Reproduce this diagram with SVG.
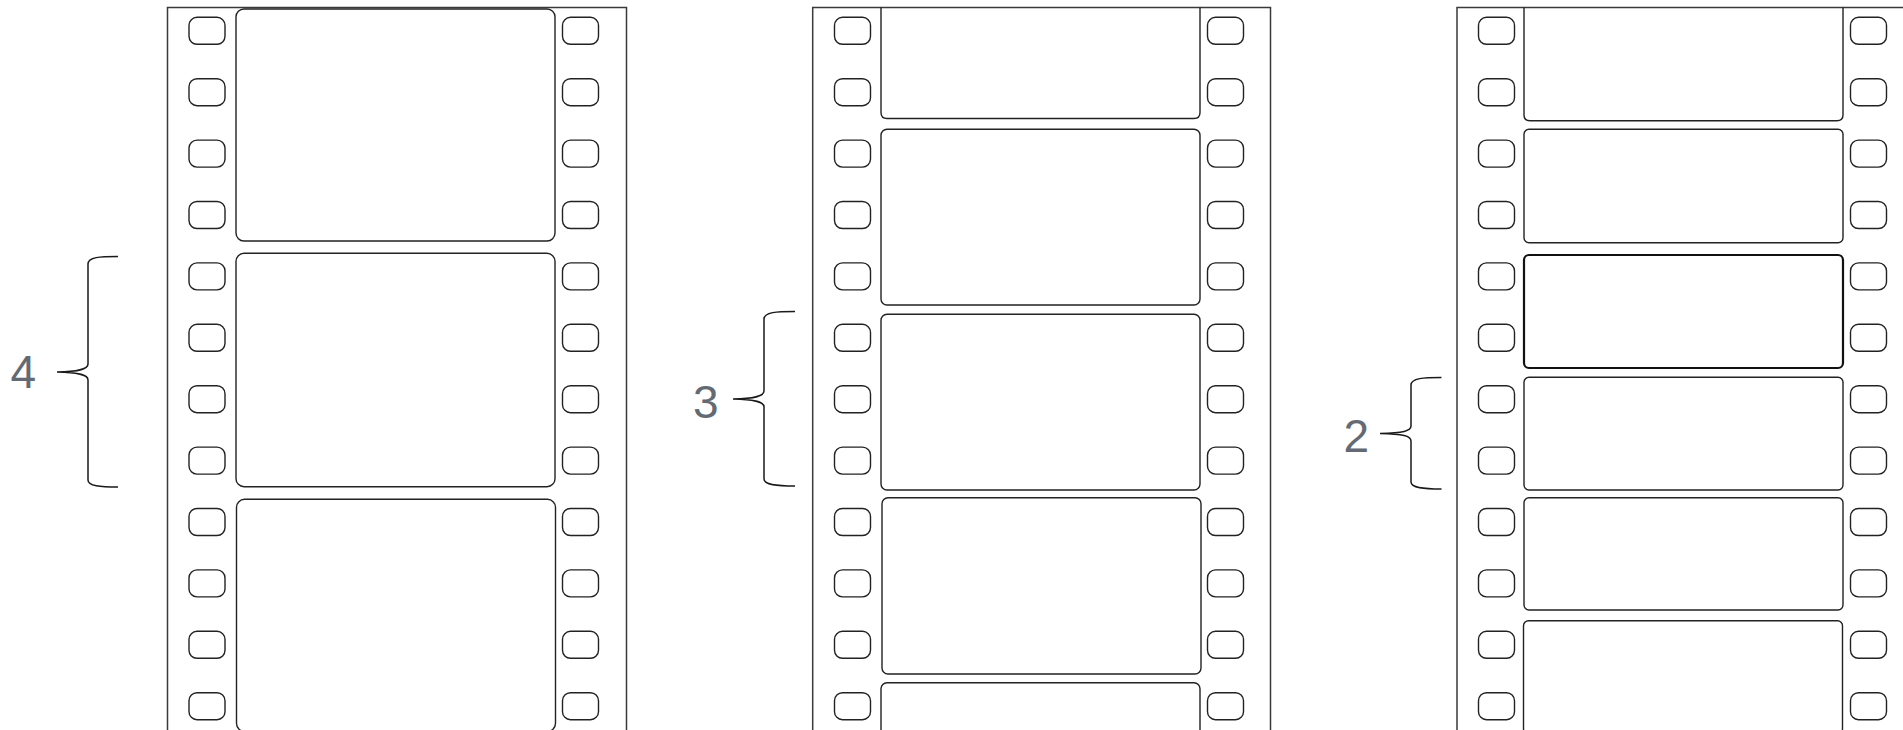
<svg xmlns="http://www.w3.org/2000/svg" width="1903" height="730" viewBox="0 0 1903 730">
<style>
.edge{fill:none;stroke:#3a3a3a;stroke-width:1.5}
.frame{fill:none;stroke:#222;stroke-width:1.4}
.bold{stroke-width:2.2;stroke:#111}
.hole{fill:none;stroke:#222;stroke-width:1.4}
.brace{fill:none;stroke:#1a1a1a;stroke-width:1.5}
.lbl{font-family:"Liberation Sans",Arial,sans-serif;font-size:46px;fill:#636a73}
</style>
<defs>
<rect id="hole" class="hole" width="36" height="27" rx="8"/>
<g id="holecol">
<use href="#hole" y="17.3"/><use href="#hole" y="78.7"/><use href="#hole" y="140.1"/><use href="#hole" y="201.5"/>
<use href="#hole" y="262.9"/><use href="#hole" y="324.3"/><use href="#hole" y="385.7"/><use href="#hole" y="447.1"/>
<use href="#hole" y="508.5"/><use href="#hole" y="569.9"/><use href="#hole" y="631.3"/><use href="#hole" y="692.7"/>
</g>
</defs>
<rect width="1903" height="730" fill="#fff"/>

<g id="strip-4">
<path class="edge" d="M167.5,730 V7.5 H626.5 V730"/>
<use href="#holecol" x="189"/>
<use href="#holecol" x="562.5"/>
<rect class="frame" x="236" y="9" width="319" height="232" rx="8"/>
<rect class="frame" x="236" y="253.3" width="319" height="233.4" rx="8"/>
<rect class="frame" x="236.5" y="499.3" width="319" height="232" rx="8"/>
</g>

<g id="strip-3">
<path class="edge" d="M812.7,730 V7.5 H1270.5 V730"/>
<use href="#holecol" x="834.5"/>
<use href="#holecol" x="1207.5"/>
<path class="frame" d="M881,7.5 V112.5 Q881,118.5 887,118.5 H1194 Q1200,118.5 1200,112.5 V7.5"/>
<rect class="frame" x="881" y="129.3" width="319" height="175.7" rx="6"/>
<rect class="frame" x="881" y="314.3" width="319" height="175.7" rx="6"/>
<rect class="frame" x="882" y="497.7" width="319" height="176.3" rx="6"/>
<rect class="frame" x="881" y="682.7" width="319" height="176" rx="6"/>
</g>

<g id="strip-2">
<path class="edge" d="M1457,730 V7.5 H1903"/>
<use href="#holecol" x="1478.5"/>
<use href="#holecol" x="1850.5"/>
<path class="frame" d="M1524,7.5 V115 Q1524,120.7 1530,120.7 H1837 Q1843,120.7 1843,115 V7.5"/>
<rect class="frame" x="1524" y="129.3" width="319" height="113.4" rx="5"/>
<rect class="frame bold" x="1524" y="255" width="319" height="113" rx="5"/>
<rect class="frame" x="1524" y="377.3" width="319" height="112.7" rx="5"/>
<rect class="frame" x="1524" y="497.7" width="319" height="112.3" rx="5"/>
<rect class="frame" x="1523.5" y="620.7" width="319" height="113" rx="5"/>
</g>

<g id="connectors">
<path class="brace" d="M118,256.5 C100,256.5 88,257 88,264 V364 C88,369 80,371.5 57,372 C80,372.5 88,375 88,380 V480 C88,486 100,487 118,487"/>
<path class="brace" d="M795,311.5 C777,311.5 764,312 764,319 V391 C764,396 756,398.5 733,399 C756,399.5 764,402 764,407 V479 C764,485 777,486 795,486"/>
<path class="brace" d="M1441.5,377.5 C1424,377.5 1411,378 1411,385 V426 C1411,431 1403,433 1380,433.5 C1403,434 1411,436 1411,441 V482 C1411,488 1424,489 1441.5,489"/>
</g>

<g id="labels">
<text class="lbl" x="10.5" y="388">4</text>
<text class="lbl" x="693" y="418">3</text>
<text class="lbl" x="1343.5" y="452">2</text>
</g>
</svg>
